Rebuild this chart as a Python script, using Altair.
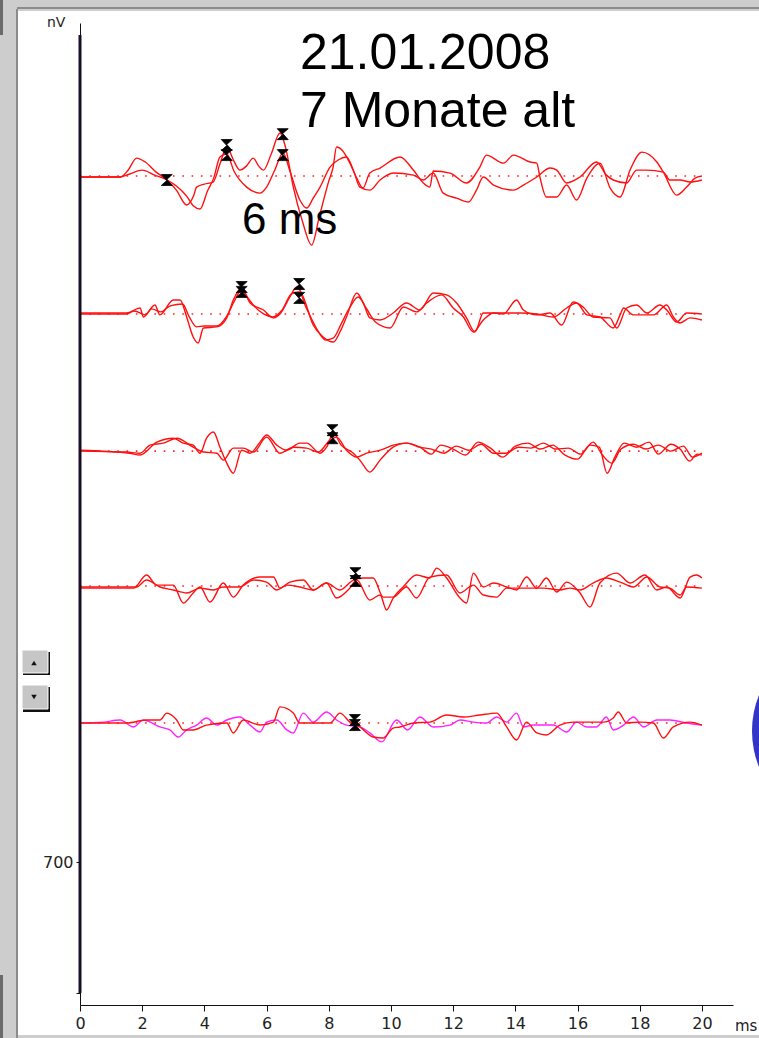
import altair as alt
import pandas as pd

# ---------------- data (time in ms, amplitude in nV) ----------------
row_baseline_nv = [4366, 3629, 2896, 2175, 1443]

r1a_ms = [0, 1.3, 1.55, 1.82, 2.1, 2.45, 2.8, 3.1, 3.43, 3.65, 3.75, 4.0, 4.28, 4.5, 4.72, 4.95, 5.14, 5.35, 5.57, 5.75,
          5.9, 6.15, 6.43, 6.6, 6.86, 7.15, 7.45, 7.7, 8.0, 8.14, 8.25, 8.45, 8.68, 8.9, 9.1, 9.32, 9.65, 10.29, 10.72, 11.04,
          11.25, 11.36, 11.9, 12.43, 12.86, 13.07, 13.62, 13.94, 14.47, 14.69, 14.79, 15.0, 15.33, 15.65, 15.97, 16.3, 16.72, 17.05, 17.37, 17.69,
          18.07, 18.55, 18.76, 19.19, 19.51, 19.78, 20.0]
r1a_nv = [-5, -5, 32, 96, 75, 21, -21, -75, -155, -107, -59, -43, -32, 64, 155, 80, 32, 53, 96, 53,
          32, 118, 230, 160, -59, -240, -369, -214, -27, 48, 155, 134, 69, -11, -64, 16, 43, 102, 32, -37,
          -59, 27, 16, -37, 48, 112, 69, 112, 75, 69, -5, -112, -112, -48, -128, -11, 69, -64, -112, 32,
          128, 75, 21, -102, -59, -11, 0]

r1b_ms = [0, 1.3, 1.6, 2.0, 2.4, 2.8, 3.1, 3.43, 3.65, 3.86, 4.1, 4.3, 4.5, 4.72, 4.95, 5.36, 5.79, 6.0, 6.25, 6.53,
          6.75, 7.07, 7.29, 7.5, 7.72, 8.04, 8.3, 8.57, 8.8, 9.0, 9.32, 9.65, 10.08, 10.72, 11.04, 11.36, 11.68, 12.11, 12.49, 12.75,
          12.97, 13.3, 13.94, 14.26, 14.69, 15.12, 15.33, 15.65, 16.08, 16.61, 16.93, 17.15, 17.58, 17.9, 18.23, 18.76, 18.97, 19.3, 19.62, 20.0]
r1b_nv = [-5, -5, 11, 32, 5, -21, -53, -107, -160, -176, -80, -11, 102, 118, 27, -59, -91, -59, 27, 123,
          27, -128, -171, -118, -59, 48, 86, 102, 27, -59, -75, -21, 16, 5, -21, 16, -91, -118, -139, -75,
          -5, -48, -75, -48, -5, 43, 32, -37, -5, 75, 5, -21, -37, 32, 32, 21, -21, -21, -32, -21]

r2a_ms = [0, 1.5, 1.93, 2.04, 2.41, 2.57, 3.0, 3.22, 3.43, 3.64, 3.8, 3.97, 4.4, 4.72, 4.93, 5.2, 5.47, 5.9, 6.22, 6.43,
          6.75, 6.97, 7.18, 7.5, 7.82, 8.15, 8.36, 8.57, 8.9, 9.11, 9.32, 9.65, 10.07, 10.5, 10.93, 11.36, 11.79, 12.11, 12.43, 12.7,
          12.97, 13.3, 13.62, 14.04, 14.26, 14.69, 15.12, 15.49, 15.86, 16.18, 16.5, 17.04, 17.26, 17.58, 17.9, 18.23, 18.65, 18.87, 19.19, 19.51,
          20.0]
r2a_nv = [5, 5, 32, -16, 48, -5, 75, 75, -16, -123, -155, -75, -69, -21, 75, 139, 59, 21, -21, 0,
          91, 144, 91, -59, -123, -150, -96, -16, 112, 59, -21, -32, 5, 59, 21, 112, 102, 59, -21, -96,
          5, 5, 0, 75, 21, -5, 5, -59, 64, 37, -16, -21, -75, 32, 48, 5, 48, 21, -43, 5,
          0]

r2b_ms = [0, 1.5, 1.75, 2.1, 2.3, 2.6, 2.9, 3.3, 3.5, 3.75, 4.0, 4.4, 4.72, 4.95, 5.2, 5.4, 5.6, 5.9, 6.2, 6.5,
          6.8, 7.05, 7.25, 7.6, 7.9, 8.15, 8.4, 8.65, 8.95, 9.2, 9.5, 9.97, 10.4, 10.82, 11.15, 11.63, 12.0, 12.33, 12.65, 12.97,
          13.3, 13.72, 14.15, 14.69, 15.22, 15.65, 15.97, 16.3, 16.72, 17.15, 17.37, 17.48, 17.8, 18.44, 18.87, 19.08, 19.3, 19.62, 20.0]
r2b_nv = [0, 0, 16, -5, 27, 11, 43, 53, -11, -69, -64, -64, -11, 64, 128, 86, 43, 0, -16, 21,
          107, 118, 43, -75, -139, -128, -53, 27, 91, 32, -43, -75, 37, 11, 59, 102, 32, -16, -96, -32,
          5, 5, 5, 0, -16, 32, 59, -5, -16, -75, -5, 32, -5, -5, 48, -16, -48, -21, -32]

r3a_ms = [0, 1.6, 1.93, 2.47, 3.0, 3.32, 3.64, 3.86, 4.07, 4.29, 4.5, 4.72, 4.93, 5.2, 5.47, 5.79, 6.0, 6.33, 6.65, 7.07,
          7.29, 7.72, 7.93, 8.15, 8.4, 8.79, 9.0, 9.32, 9.65, 10.07, 10.5, 10.93, 11.3, 11.6, 12.0, 12.4, 12.8, 13.2, 13.6, 14.0,
          14.4, 14.8, 15.2, 15.6, 16.0, 16.4, 16.7, 16.95, 17.2, 17.5, 17.9, 18.3, 18.6, 19.0, 19.3, 19.6, 19.85, 20.0]
r3a_nv = [5, -11, -21, 48, 69, 43, 32, -11, 69, 102, 21, -64, -118, 5, -11, 48, 86, 32, 5, 43,
          43, -11, 21, 96, 32, -11, -48, -112, -48, 21, 43, 21, -16, 32, 11, -21, 48, 16, -32, 27,
          43, 11, 32, -21, -43, 32, 21, -118, -32, 43, 21, 48, -16, 37, 11, -53, -16, -21]

r3b_ms = [0, 1.5, 1.93, 2.25, 2.68, 3.11, 3.64, 3.97, 4.4, 4.61, 4.93, 5.25, 5.58, 6.0, 6.43, 6.86, 7.29, 7.66, 8.04, 8.25,
          8.57, 8.9, 9.22, 9.65, 10.07, 10.5, 10.93, 11.3, 11.7, 12.1, 12.5, 12.9, 13.3, 13.7, 14.1, 14.5, 14.9, 15.3, 15.7, 16.1,
          16.5, 16.8, 17.1, 17.4, 17.8, 18.2, 18.6, 19.0, 19.4, 19.7, 20.0]
r3b_nv = [0, -5, -11, 32, 43, 69, 21, -5, -11, -48, 16, 16, -5, 75, -11, 21, 16, -5, 59, 75,
          5, -32, -11, 5, 32, 43, 21, 11, -11, 27, 5, 37, -11, -11, 21, 16, 43, 11, 16, -16,
          48, -21, -64, 11, 37, 11, 32, 0, 27, -32, -11]

r4a_ms = [0, 1.72, 2.14, 2.47, 3.0, 3.32, 3.64, 3.86, 4.18, 4.61, 4.93, 5.25, 5.79, 6.22, 6.43, 6.75, 7.18, 7.5, 7.93, 8.25,
          8.68, 8.9, 9.32, 9.65, 9.86, 10.07, 10.39, 10.82, 11.25, 11.47, 11.79, 12.22, 12.43, 12.65, 12.97, 13.3, 13.72, 14.04, 14.36, 14.69,
          15.0, 15.33, 15.65, 16.08, 16.4, 16.72, 17.26, 17.69, 18.17, 18.55, 18.87, 19.3, 19.62, 19.83, 20.0]
r4a_nv = [-11, -11, 59, 5, 5, -91, -37, -5, -86, 16, -59, 5, 48, 48, -11, 21, 32, -21, 16, -64,
          -11, 32, -75, -48, -128, -64, -5, 59, 43, 96, 43, -64, -91, 69, -5, 16, -5, -21, 48, -11,
          43, -32, 21, -37, -112, 16, 69, 16, 59, -21, -5, -64, 48, 59, 43]

r4b_ms = [0, 1.82, 2.14, 2.57, 3.0, 3.43, 3.86, 4.29, 4.61, 5.14, 5.58, 6.0, 6.33, 6.65, 7.07, 7.5, 7.93, 8.36, 8.79, 9.11,
          9.43, 9.75, 10.07, 10.5, 10.82, 11.25, 11.79, 12.22, 12.65, 12.97, 13.4, 13.72, 14.15, 14.58, 14.9, 15.43, 15.76, 16.08, 16.5, 16.93,
          17.37, 17.8, 18.23, 18.65, 18.97, 19.3, 19.51, 20.0]
r4b_nv = [-5, -5, 32, -5, -21, -37, -11, -21, -5, -5, 32, 21, -21, 5, -5, -21, 16, -21, 32, 43,
          43, -59, -59, -5, -64, 48, 59, -37, 5, -48, -59, -11, -11, -11, -11, -21, -11, -21, 16, 43,
          21, -5, 48, -5, -11, -48, -5, -11]

r5a_ms = [0, 1.5, 2.14, 2.57, 2.79, 3.11, 3.32, 3.64, 4.07, 4.72, 4.93, 5.25, 5.79, 6.22, 6.43, 6.86, 7.07, 7.61, 8.04, 8.36,
          8.68, 9.0, 9.43, 9.75, 10.07, 10.29, 10.72, 11.25, 11.79, 12.33, 12.86, 13.4, 13.72, 14.04, 14.36, 14.69, 15.0, 15.43, 15.86, 16.4,
          16.83, 17.15, 17.31, 17.58, 18.01, 18.44, 18.76, 19.08, 19.62, 20.0]
r5a_nv = [0, 0, 16, 16, 53, 16, -37, -37, -11, 0, -53, 16, -11, 5, 86, 53, 0, 0, 0, 53,
          5, -21, -75, -80, -27, -21, 0, 5, 43, 32, 43, 53, -21, -91, 5, -53, -64, -11, 5, 5,
          5, 27, 59, 0, 5, 0, -80, -21, 5, -11]

r5b_ms = [0, 0.75, 1.29, 1.72, 2.04, 2.57, 2.89, 3.16, 3.43, 3.75, 4.07, 4.4, 4.72, 5.14, 5.47, 5.79, 6.0, 6.33, 6.65, 6.86,
          7.18, 7.5, 7.93, 8.25, 8.57, 9.0, 9.32, 9.7, 10.18, 10.54, 10.93, 11.36, 11.9, 12.22, 12.65, 13.07, 13.4, 13.72, 14.04, 14.26,
          14.58, 15.22, 15.65, 15.97, 16.29, 16.61, 16.93, 17.15, 17.48, 17.8, 18.12, 18.55, 18.97, 19.51, 20.0]
r5b_nv = [0, 5, 16, -21, 16, -21, -37, -75, -37, -11, 27, -11, 16, 32, -11, -48, 5, 16, -37, -53,
          53, 5, 59, 16, -11, -21, -53, -101, 16, -37, 32, -21, -11, 16, 5, 0, 32, 5, 53, -21,
          -11, -11, -48, 5, -21, -21, 32, -37, -11, 32, -21, 16, 16, 0, -11]

marker_ms = [2.79, 4.72, 4.72, 6.52, 6.52, 5.2, 5.2, 7.05, 7.05, 8.12, 8.12, 8.86, 8.86, 8.84, 8.84]
marker_nv = [4345, 4532, 4478, 4590, 4478, 3773, 3747, 3789, 3715, 3008, 2965, 2244, 2202, 1459, 1432]

x_ticks = [0, 2, 4, 6, 8, 10, 12, 14, 16, 18, 20]
y_ticks = [0, 700]

# ---------------- build tables ----------------
RED, MAGENTA = "#ff1010", "#ff22ff"
trace_defs = [
    ("r1a", 0, RED, r1a_ms, r1a_nv), ("r1b", 0, RED, r1b_ms, r1b_nv),
    ("r2a", 1, RED, r2a_ms, r2a_nv), ("r2b", 1, RED, r2b_ms, r2b_nv),
    ("r3a", 2, RED, r3a_ms, r3a_nv), ("r3b", 2, RED, r3b_ms, r3b_nv),
    ("r4a", 3, RED, r4a_ms, r4a_nv), ("r4b", 3, RED, r4b_ms, r4b_nv),
    ("r5b", 4, MAGENTA, r5b_ms, r5b_nv), ("r5a", 4, RED, r5a_ms, r5a_nv),
]
rows = []
for k, (name, row, col, ts, vs) in enumerate(trace_defs):
    assert len(ts) == len(vs), name
    for t, v in zip(ts, vs):
        rows.append({"trace": f"{k:02d}{name}", "ms": t, "nv": row_baseline_nv[row] + v, "color": col})
traces = pd.DataFrame(rows)

base_df = pd.DataFrame({"start": [0.0] * 5, "end": [20.0] * 5, "nv": row_baseline_nv})
mark_df = pd.DataFrame({"ms": marker_ms, "nv": marker_nv})
one = pd.DataFrame({"a": [0]})

XS = alt.Scale(domain=[0, 21], nice=False, zero=False)
YS = alt.Scale(domain=[-64, 5184], nice=False, zero=False)

x_axis = alt.Axis(values=x_ticks, title=None, grid=False, domainColor="#111", tickColor="#111",
                  tickSize=6, labelFont="DejaVu Sans", labelFontSize=16, labelColor="#222",
                  labelPadding=4, labelAngle=0, zindex=1, labelFlush=False)
y_axis = alt.Axis(values=y_ticks, title=None, grid=False, domainColor="#111", tickColor="#111",
                  tickSize=4, labelFont="DejaVu Sans", labelFontSize=16, labelColor="#222",
                  labelPadding=3, zindex=1, labelExpr="datum.value == 700 ? '700' : ''")

# ---------------- decorations (window frame) ----------------
panel = alt.Chart(one).mark_rect(color="white").encode(
    x=alt.value(-62), x2=alt.value(679), y=alt.value(-12), y2=alt.value(1012))
frame_v = alt.Chart(one).mark_rule(color="#8c8c8c", strokeWidth=2).encode(
    x=alt.value(-63), y=alt.value(-14), y2=alt.value(1015))
frame_h = alt.Chart(one).mark_rule(color="#8c8c8c", strokeWidth=2).encode(
    x=alt.value(-63), x2=alt.value(679), y=alt.value(-15))
edge_top = alt.Chart(one).mark_rect(color="#6a6a6a").encode(
    x=alt.value(-80), x2=alt.value(-77), y=alt.value(-23), y2=alt.value(12))
edge_bot = alt.Chart(one).mark_rect(color="#6a6a6a").encode(
    x=alt.value(-80), x2=alt.value(-77), y=alt.value(952), y2=alt.value(1015))

btn_shadow = alt.Chart(pd.DataFrame({"y": [629, 664], "y2": [652, 689]})).mark_rect(color="#111").encode(
    x=alt.value(-57), x2=alt.value(-30), y=alt.Y("y:Q", scale=None), y2="y2:Q")
btn_face = alt.Chart(pd.DataFrame({"y": [627, 662], "y2": [650, 686]})).mark_rect(
    color="#c6c6c6", stroke="white", strokeWidth=1).encode(
    x=alt.value(-58), x2=alt.value(-32), y=alt.Y("y:Q", scale=None), y2="y2:Q")
btn_up = alt.Chart(one).mark_point(shape="triangle-up", filled=True, color="#111", size=30, opacity=1).encode(
    x=alt.value(-46), y=alt.value(640))
btn_dn = alt.Chart(one).mark_point(shape="triangle-down", filled=True, color="#111", size=30, opacity=1).encode(
    x=alt.value(-46), y=alt.value(674))

# Vega circle radius = sqrt(size)/2  -> radius 96 px
circle = alt.Chart(one).mark_point(shape="circle", filled=True, color="#3434c8", size=36864, opacity=1).encode(
    x=alt.value(768), y=alt.value(708))

# ---------------- chart content ----------------
baselines = alt.Chart(base_df).mark_rule(color="#ff2020", strokeWidth=1.6, strokeDash=[1.6, 7.7]).encode(
    x=alt.X("start:Q", scale=XS, axis=x_axis), x2="end:Q", y=alt.Y("nv:Q", scale=YS, axis=y_axis))

lines = alt.Chart(traces).mark_line(strokeWidth=1.4, interpolate="monotone").encode(
    x=alt.X("ms:Q", scale=XS, axis=x_axis),
    y=alt.Y("nv:Q", scale=YS, axis=y_axis),
    detail="trace:N",
    color=alt.Color("color:N", scale=None),
    order="ms:Q")

hourglass = "M-1,-1H1L0,-0.1L1,1H-1L0,0.1Z"
markers = alt.Chart(mark_df).mark_point(shape=hourglass, filled=True, color="#000", size=121, opacity=1,
                                        stroke="#000", strokeWidth=0.8).encode(
    x=alt.X("ms:Q", scale=XS), y=alt.Y("nv:Q", scale=YS))

yaxis_bar = alt.Chart(one).mark_rule(color="#1e1034", strokeWidth=3).encode(
    x=alt.value(0), y=alt.value(12), y2=alt.value(970))

def label(txt, x, y, size, font="Liberation Sans", color="#000"):
    return alt.Chart(one).mark_text(text=txt, align="left", baseline="alphabetic", fontSize=size,
                                    font=font, color=color).encode(x=alt.value(x), y=alt.value(y))

texts = [
    label("21.01.2008", 220, 46, 50),
    label("7 Monate alt", 220, 104, 50),
    label("6 ms", 162, 211, 44),
    label("nV", -33, 4, 14, font="DejaVu Sans", color="#222"),
    label("ms", 655, 1008, 15, font="DejaVu Sans", color="#222"),
]

chart = alt.layer(
    panel, frame_v, frame_h, edge_top, edge_bot, btn_shadow, btn_face, btn_up, btn_dn, circle,
    baselines, lines, markers, yaxis_bar, *texts
).properties(
    width=653, height=982,
    padding={"left": 80, "top": 23, "right": 26, "bottom": 33},
    autosize=alt.AutoSizeParams(type="none"),
    background="#cdcdcd",
).configure_view(stroke=None)

chart.save("out.html", embed_options={"renderer": "svg", "actions": False})
